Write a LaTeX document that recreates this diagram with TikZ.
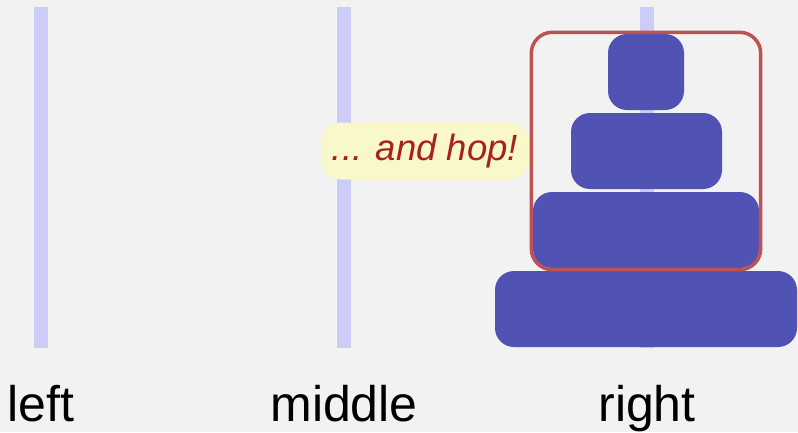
\documentclass[tikz,border=0pt]{standalone}
\usepackage{fontspec}
\setmainfont{Liberation Sans}
\usetikzlibrary{positioning, fit}

\definecolor{bgcol}{RGB}{242,242,242}
\definecolor{pegcol}{RGB}{204,204,248}
\definecolor{disccol}{RGB}{80,82,180}
\definecolor{boxcol}{RGB}{190,82,82}
\definecolor{notecol}{RGB}{248,248,200}
\definecolor{notetext}{RGB}{168,32,32}

\tikzset{
    disc/.style={fill=disccol, rounded corners=19pt, minimum height=76pt, inner sep=0pt},
    hopbox/.style={draw=boxcol, line width=3.5pt, rounded corners=21pt, inner sep=1.5pt},
    note/.style={fill=notecol, rounded corners=20pt, minimum width=208pt, minimum height=57pt,
        inner sep=0pt, text=notetext, font=\fontsize{36.5}{40}\selectfont\itshape},
    pegname/.style={anchor=base, font=\fontsize{50}{56}\selectfont}
}

\begin{document}
\begin{tikzpicture}[x=1pt, y=-1pt]
        \fill[bgcol] (0,0) rectangle (798,432);
        \useasboundingbox (0,0) rectangle (798,432);

        % pegs
        \foreach \x/\name in {41/left, 344/middle, 647/right}
        {
            \fill[pegcol] (\x-7,7) rectangle (\x+7,348);
            \node[pegname] (\name) at (\x,421) {\name};
        };

        \node[note] (hop) at (425,151) {... and hop!};

        % discs
        \node[disc, minimum width=76pt] (d1) at (646,72) {};
        \node[disc, minimum width=151pt] (d2) at (646.5,151) {};
        \node[disc, minimum width=226pt] (d3) at (646,230) {};
        \node[disc, minimum width=302pt] (d4) at (646,309) {};

        \node[hopbox, fit=(d1)(d2)(d3)] (tower) {};
    \end{tikzpicture}
\end{document}
